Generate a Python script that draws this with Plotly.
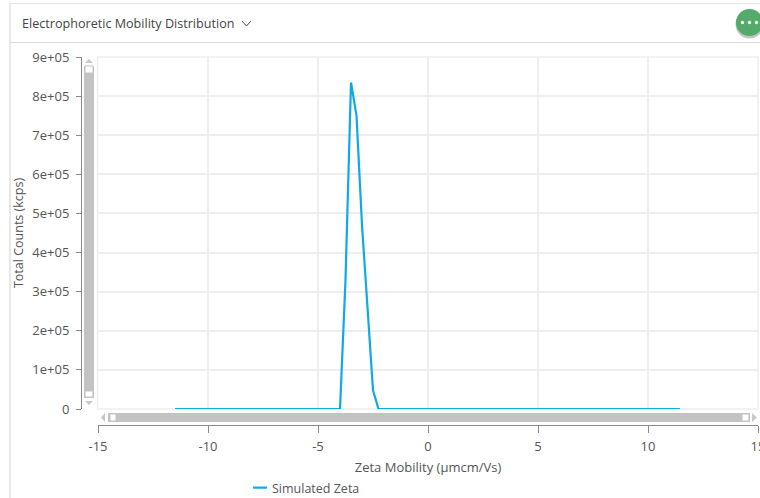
import plotly.graph_objects as go

mobility = [-11.5, -4.0, -3.75, -3.5, -3.25, -3.0, -2.75, -2.5, -2.25, 11.45]
counts = [0, 0, 330000, 835000, 750000, 470000, 260000, 48000, 0, 0]
series_name = "Simulated Zeta"
x_ticks = [-15, -10, -5, 0, 5, 10, 15]
x_labels = ["-15", "-10", "-5", "0", "5", "10", "15"]
y_ticks = [0, 100000, 200000, 300000, 400000, 500000, 600000, 700000, 800000, 900000]
y_labels = ["0", "1e+05", "2e+05", "3e+05", "4e+05", "5e+05", "6e+05", "7e+05", "8e+05", "9e+05"]

W, H = 760, 498
FONT = "Open Sans"
TXT = "#555555"
GRID = "#eeeeee"
BAR = "#c3c3c3"


def px(v):
    return v / W


def py(v):
    return 1 - v / H


def rect(x0, y0, x1, y1, fill, line=None, lw=0):
    return dict(type="rect", xref="paper", yref="paper", x0=px(x0), x1=px(x1), y0=py(y1), y1=py(y0),
                fillcolor=fill, line=dict(color=line or fill, width=lw), layer="above")


def tri(points, fill="#c8c8c8"):
    path = "M" + " L".join(f"{px(a):.5f},{py(b):.5f}" for a, b in points) + " Z"
    return dict(type="path", xref="paper", yref="paper", path=path, fillcolor=fill, line=dict(width=0), layer="above")


def circle(cx, cy, r, fill):
    return dict(type="circle", xref="paper", yref="paper", x0=px(cx - r), x1=px(cx + r), y0=py(cy + r), y1=py(cy - r),
                fillcolor=fill, line=dict(width=0), layer="above")


shapes = [
    # plot frame (same tone as the grid)
    dict(type="rect", xref="paper", yref="paper", x0=px(97.5), x1=px(758), y0=py(409), y1=py(57),
         fillcolor="rgba(0,0,0,0)", line=dict(color=GRID, width=1.5), layer="below"),
    # card
    rect(10, 3, 762, 4, "#e6e6e6"),
    rect(9, 3, 11, 498, "#e8e8e8"),
    rect(10, 42, 762, 43, "#d9d9d9"),
    # vertical scrollbar
    rect(84, 66, 94, 398, BAR),
    rect(85, 66, 93, 73, "white", BAR, 1),
    rect(85, 391, 93, 397, "white", BAR, 1),
    tri([(85, 63), (89, 59), (93, 63)]),
    tri([(85, 401), (89, 405), (93, 401)]),
    # horizontal scrollbar
    rect(108, 413, 750, 422, BAR),
    rect(110, 414, 116, 421, "white", BAR, 1),
    rect(742, 414, 749, 421, "white", BAR, 1),
    tri([(105, 413), (101, 417.5), (105, 422)]),
    tri([(752, 413), (757, 417.5), (752, 422)]),
    # menu button
    circle(749.5, 24.5, 14, "#c4c4c4"),
    circle(749.5, 22.5, 13.5, "#52ab68"),
    circle(742.5, 22.5, 1.7, "white"),
    circle(749.5, 22.5, 1.7, "white"),
    circle(756.5, 22.5, 1.7, "white"),
    # header chevron
    dict(type="path", xref="paper", yref="paper",
         path=f"M{px(242):.5f},{py(21):.5f} L{px(246.5):.5f},{py(26):.5f} L{px(251):.5f},{py(21):.5f}",
         line=dict(color="#555555", width=1), layer="above"),
]

fig = go.Figure(
    go.Scatter(x=mobility, y=counts, mode="lines", name=series_name,
               line=dict(color="#0fa9e6", width=2.2), showlegend=True)
)

fig.update_layout(
    width=W, height=H, margin=dict(l=0, r=0, t=0, b=0, autoexpand=False),
    paper_bgcolor="white", plot_bgcolor="white",
    font=dict(family=FONT, size=12, color=TXT),
    shapes=shapes,
    showlegend=True,
    legend=dict(x=px(232), y=py(488), xanchor="left", yanchor="middle", orientation="h",
                bgcolor="rgba(0,0,0,0)", font=dict(size=12.5, color=TXT), itemwidth=30),
    annotations=[
        dict(text="Electrophoretic Mobility Distribution", xref="paper", yref="paper", x=px(20), y=py(23),
             xanchor="left", yanchor="middle", showarrow=False, font=dict(size=12.6, color="#444444")),
    ],
    xaxis=dict(
        domain=[px(98), px(758)], range=[-15, 15], anchor="free", position=py(425),
        tickmode="array", tickvals=x_ticks, ticktext=x_labels, ticklabeloverflow="allow",
        showline=True, linecolor="#8a8a8a", linewidth=1, ticks="outside", ticklen=7, tickcolor="#8a8a8a",
        showgrid=True, gridcolor=GRID, gridwidth=1.5, zeroline=False, ticklabelstandoff=2,
        tickfont=dict(size=13, color=TXT),
        title=dict(text="Zeta Mobility (µmcm/Vs)", font=dict(size=13, color=TXT), standoff=9),
        automargin=False,
    ),
    yaxis=dict(
        domain=[py(409), py(57)], range=[0, 900000], anchor="free", position=px(81),
        tickmode="array", tickvals=y_ticks, ticktext=y_labels,
        showline=True, linecolor="#8a8a8a", linewidth=1, ticks="outside", ticklen=5, tickcolor="#8a8a8a",
        showgrid=True, gridcolor=GRID, gridwidth=1.5, zeroline=False, ticklabelstandoff=4,
        tickfont=dict(size=13, color=TXT),
        title=dict(text="Total Counts (kcps)", font=dict(size=12.5, color=TXT), standoff=4),
        automargin=False,
    ),
)

post = """
document.body.style.margin='0';
document.querySelectorAll('.legendlines path').forEach(function(p){p.setAttribute('d','M21,0h14');});
"""
fig.write_html("out.html", post_script=post, config=dict(displayModeBar=False))
